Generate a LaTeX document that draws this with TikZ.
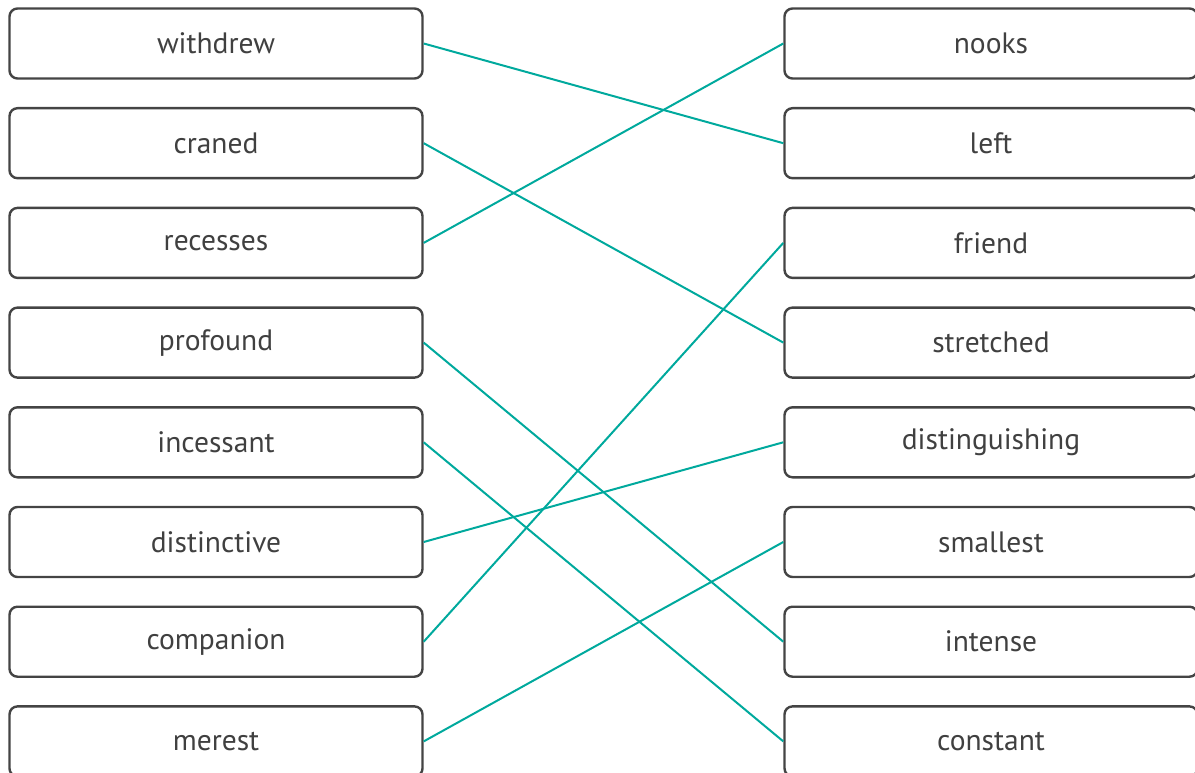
\documentclass[tikz,border=0pt]{standalone}
\usepackage{fontspec}
\setmainfont{PT Sans}
\usepackage{tikz}
\usetikzlibrary{positioning}

\definecolor{boxgrey}{HTML}{444444}
\definecolor{wordgrey}{HTML}{404040}
\definecolor{matchteal}{HTML}{00A99D}

\begin{document}
\begin{tikzpicture}[x=1pt, y=-1pt,
    word/.style={draw=boxgrey, line width=2.4pt, rounded corners=8pt, minimum width=413pt, minimum height=70pt, inner sep=0pt, text=wordgrey, font=\fontsize{29.5}{33}\selectfont},
    match/.style={draw=matchteal, line width=2pt}]
            \useasboundingbox (0,0) rectangle (1195,773);
            \clip (0,0) rectangle (1195,773);

            \node[word] (withdrew) at (216,43.5) {withdrew};
            \node[word] (craned) at (216,143.2) {craned};
            \node[word] (recesses) at (216,242.9) {recesses};
            \node[word] (profound) at (216,342.6) {profound};
            \node[word] (incessant) at (216,442.3) {incessant};
            \node[word] (distinctive) at (216,542) {distinctive};
            \node[word] (companion) at (216,641.7) {companion};
            \node[word] (merest) at (216,741.4) {merest};

            \node[word] (nooks) at (991,43.5) {nooks};
            \node[word] (left) at (991,143.2) {left};
            \node[word] (friend) at (991,242.9) {friend};
            \node[word] (stretched) at (991,342.6) {stretched};
            \node[word] (distinguishing) at (991,442.3) {distinguishing};
            \node[word] (smallest) at (991,542) {smallest};
            \node[word] (intense) at (991,641.7) {intense};
            \node[word] (constant) at (991,741.4) {constant};

            % Matching lines: word to synonym
            \draw[match] (withdrew.east) -- (left.west);
            \draw[match] (craned.east) -- (stretched.west);
            \draw[match] (recesses.east) -- (nooks.west);
            \draw[match] (profound.east) -- (intense.west);
            \draw[match] (incessant.east) -- (constant.west);
            \draw[match] (distinctive.east) -- (distinguishing.west);
            \draw[match] (companion.east) -- (friend.west);
            \draw[match] (merest.east) -- (smallest.west);

        \end{tikzpicture}
\end{document}
